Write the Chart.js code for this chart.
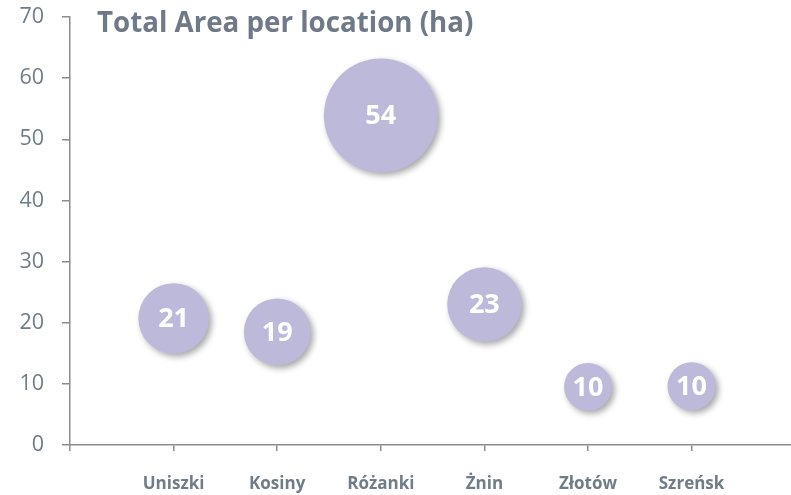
<!DOCTYPE html>
<html>
<head>
<meta charset="utf-8">
<script src="https://cdn.jsdelivr.net/npm/chart.js"></script>
<style>
  html, body { margin: 0; padding: 0; background: #fff; }
  #wrap { width: 791px; height: 495px; position: relative; }
</style>
</head>
<body>
<div id="wrap"><canvas id="c" width="791" height="495"></canvas></div>
<script>
"use strict";
// dados
const locations = ['Uniszki', 'Kosiny', 'Różanki', 'Żnin', 'Złotów', 'Szreńsk'];
const areas = [20.7, 18.5, 53.9, 23.0, 9.5, 9.6];
const yTicks = [0, 10, 20, 30, 40, 50, 60, 70];
const chartTitle = 'Total Area per location (ha)';

const gray = '#707c88';
const axisGray = '#8c8c8c';
const bubbleColor = '#bdb9da';

Chart.defaults.font.family = "'Open Sans', sans-serif";
// sem margem extra pelo raio das bolhas (o eixo fica fixo)
Chart.BubbleController.prototype.getMaxOverflow = function() { return 0; };

// sombra das bolhas
const shadowPlugin = {
  id: 'shadow',
  beforeDatasetsDraw(chart) {
    const ctx = chart.ctx;
    ctx.save();
    ctx.shadowColor = 'rgba(0,0,0,0.35)';
    ctx.shadowBlur = 6;
    ctx.shadowOffsetX = 3;
    ctx.shadowOffsetY = 3;
  },
  afterDatasetsDraw(chart) {
    chart.ctx.restore();
  }
};

// rótulos dentro das bolhas + título
const labelPlugin = {
  id: 'labels',
  afterDraw(chart) {
    const ctx = chart.ctx;
    const meta = chart.getDatasetMeta(0);
    ctx.save();
    ctx.fillStyle = '#ffffff';
    ctx.font = "bold 27px 'Open Sans', sans-serif";
    ctx.textAlign = 'center';
    ctx.textBaseline = 'middle';
    meta.data.forEach((el, i) => {
      ctx.fillText(String(Math.round(areas[i])), el.x, el.y + 1);
    });
    ctx.fillStyle = '#6e7a87';
    ctx.font = "bold 27.7px 'Open Sans', sans-serif";
    ctx.textAlign = 'left';
    ctx.textBaseline = 'alphabetic';
    ctx.fillText(chartTitle, 97, 32);
    ctx.restore();
  }
};

new Chart(document.getElementById('c').getContext('2d'), {
  type: 'bubble',
  data: {
    datasets: [{
      label: chartTitle,
      data: areas.map((v, i) => ({ x: i + 1, y: v, r: 7.75 * Math.sqrt(v) })),
      backgroundColor: bubbleColor,
      borderWidth: 0,
      hoverBorderWidth: 0,
      clip: false
    }]
  },
  options: {
    responsive: false,
    animation: false,
    layout: { padding: { top: 17, left: 0, right: 0, bottom: 0 } },
    plugins: {
      legend: { display: false },
      tooltip: { enabled: false }
    },
    scales: {
      x: {
        type: 'linear',
        min: 0,
        max: 6.96,
        afterFit: (s) => { s.height = 50; s.paddingLeft = 0; s.paddingRight = 0; },
        grid: { drawOnChartArea: false, drawTicks: true, tickLength: 6, tickColor: axisGray, lineWidth: 1.5 },
        border: { display: true, color: axisGray, width: 1.5 },
        ticks: {
          stepSize: 1,
          includeBounds: false,
          autoSkip: false,
          maxRotation: 0,
          padding: 23,
          color: gray,
          font: { size: 17, weight: 'bold' },
          callback: (v) => locations[v - 1] || ''
        }
      },
      y: {
        min: yTicks[0],
        max: yTicks[yTicks.length - 1],
        afterFit: (s) => { s.width = 70; s.paddingTop = 0; s.paddingBottom = 0; },
        afterBuildTicks: (s) => { s.ticks = yTicks.map(v => ({ value: v })); },
        grid: { drawOnChartArea: false, drawTicks: true, tickLength: 8, tickColor: axisGray, lineWidth: 1.5 },
        border: { display: true, color: axisGray, width: 1.5 },
        ticks: {
          padding: 18,
          color: gray,
          font: { size: 21.5 }
        }
      }
    }
  },
  plugins: [shadowPlugin, labelPlugin]
});
</script>
</body>
</html>
